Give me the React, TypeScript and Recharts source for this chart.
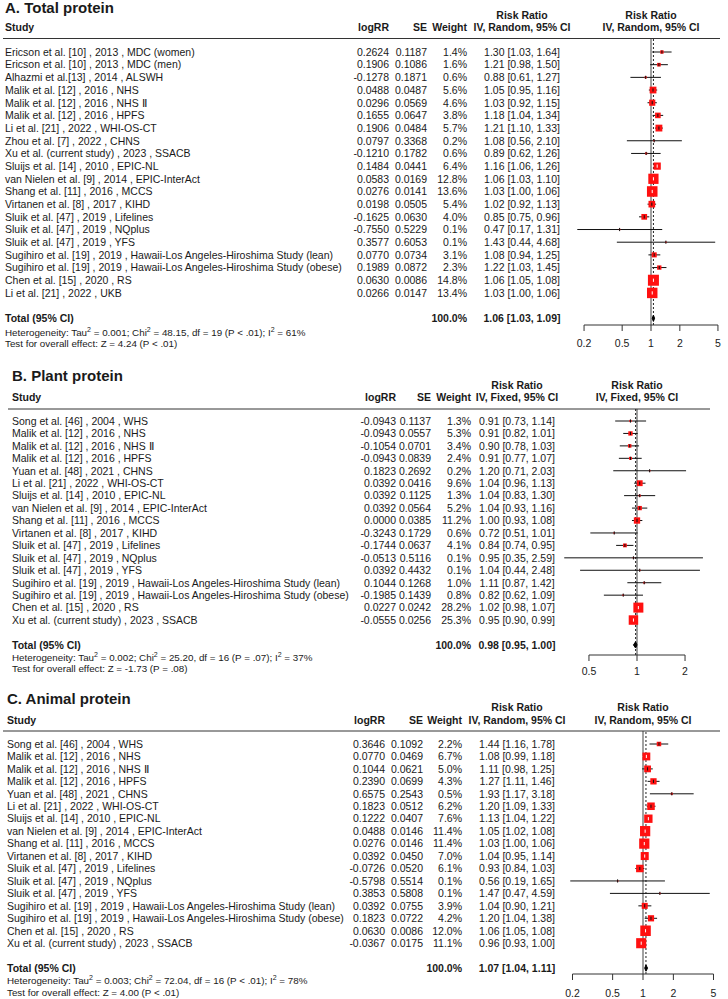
import React from 'react';
import { ScatterChart, Scatter, XAxis, YAxis, ErrorBar, ReferenceLine } from 'recharts';

const FONT = "'Liberation Sans', Arial, Helvetica, sans-serif";
const INK = '#1a1a1a';

// ---------- A. Total protein ----------
const totalStudies = [
  'Ericson et al. [10] , 2013 , MDC (women)',
  'Ericson et al. [10] , 2013 , MDC (men)',
  'Alhazmi et al.[13] , 2014 , ALSWH',
  'Malik et al. [12] , 2016 , NHS',
  'Malik et al. [12] , 2016 , NHS Ⅱ',
  'Malik et al. [12] , 2016 , HPFS',
  'Li et al. [21] , 2022 , WHI-OS-CT',
  'Zhou et al. [7] , 2022 , CHNS',
  'Xu et al. (current study) , 2023 , SSACB',
  'Sluijs et al. [14] , 2010 , EPIC-NL',
  'van Nielen et al. [9] , 2014 , EPIC-InterAct',
  'Shang et al. [11] , 2016 , MCCS',
  'Virtanen et al. [8] , 2017 , KIHD',
  'Sluik et al. [47] , 2019 , Lifelines',
  'Sluik et al. [47] , 2019 , NQplus',
  'Sluik et al. [47] , 2019 , YFS',
  'Sugihiro et al. [19] , 2019 , Hawaii-Los Angeles-Hiroshima Study (lean)',
  'Sugihiro et al. [19] , 2019 , Hawaii-Los Angeles-Hiroshima Study (obese)',
  'Chen et al. [15] , 2020 , RS',
  'Li et al. [21] , 2022 , UKB',
];
const totalLogRR = [0.2624, 0.1906, -0.1278, 0.0488, 0.0296, 0.1655, 0.1906, 0.0797, -0.121, 0.1484, 0.0583, 0.0276, 0.0198, -0.1625, -0.755, 0.3577, 0.077, 0.1989, 0.063, 0.0266];
const totalSE = [0.1187, 0.1086, 0.1871, 0.0487, 0.0569, 0.0647, 0.0484, 0.3368, 0.1782, 0.0441, 0.0169, 0.0141, 0.0505, 0.063, 0.5229, 0.6053, 0.0734, 0.0872, 0.0086, 0.0147];
const totalWeight = [1.4, 1.6, 0.6, 5.6, 4.6, 3.8, 5.7, 0.2, 0.6, 6.4, 12.8, 13.6, 5.4, 4.0, 0.1, 0.1, 3.1, 2.3, 14.8, 13.4];
const totalRR = [1.3, 1.21, 0.88, 1.05, 1.03, 1.18, 1.21, 1.08, 0.89, 1.16, 1.06, 1.03, 1.02, 0.85, 0.47, 1.43, 1.08, 1.22, 1.06, 1.03];
const totalLow = [1.03, 0.98, 0.61, 0.95, 0.92, 1.04, 1.1, 0.56, 0.62, 1.06, 1.03, 1.0, 0.92, 0.75, 0.17, 0.44, 0.94, 1.03, 1.05, 1.0];
const totalHigh = [1.64, 1.5, 1.27, 1.16, 1.15, 1.34, 1.33, 2.1, 1.26, 1.26, 1.1, 1.06, 1.13, 0.96, 1.31, 4.68, 1.25, 1.45, 1.08, 1.06];
const totalPooled = [1.06, 1.03, 1.09];
const totalHet = ['0.001', '48.15', '19', 'P < .01', '61%'];
const totalTest = 'Z = 4.24 (P < .01)';

// ---------- B. Plant protein ----------
const cohortStudies = [
  'Song et al. [46] , 2004 , WHS',
  'Malik et al. [12] , 2016 , NHS',
  'Malik et al. [12] , 2016 , NHS Ⅱ',
  'Malik et al. [12] , 2016 , HPFS',
  'Yuan et al. [48] , 2021 , CHNS',
  'Li et al. [21] , 2022 , WHI-OS-CT',
  'Sluijs et al. [14] , 2010 , EPIC-NL',
  'van Nielen et al. [9] , 2014 , EPIC-InterAct',
  'Shang et al. [11] , 2016 , MCCS',
  'Virtanen et al. [8] , 2017 , KIHD',
  'Sluik et al. [47] , 2019 , Lifelines',
  'Sluik et al. [47] , 2019 , NQplus',
  'Sluik et al. [47] , 2019 , YFS',
  'Sugihiro et al. [19] , 2019 , Hawaii-Los Angeles-Hiroshima Study (lean)',
  'Sugihiro et al. [19] , 2019 , Hawaii-Los Angeles-Hiroshima Study (obese)',
  'Chen et al. [15] , 2020 , RS',
  'Xu et al. (current study) , 2023 , SSACB',
];
const plantLogRR = [-0.0943, -0.0943, -0.1054, -0.0943, 0.1823, 0.0392, 0.0392, 0.0392, 0.0, -0.3243, -0.1744, -0.0513, 0.0392, 0.1044, -0.1985, 0.0227, -0.0555];
const plantSE = [0.1137, 0.0557, 0.0701, 0.0839, 0.2692, 0.0416, 0.1125, 0.0564, 0.0385, 0.1729, 0.0637, 0.5116, 0.4432, 0.1268, 0.1439, 0.0242, 0.0256];
const plantWeight = [1.3, 5.3, 3.4, 2.4, 0.2, 9.6, 1.3, 5.2, 11.2, 0.6, 4.1, 0.1, 0.1, 1.0, 0.8, 28.2, 25.3];
const plantRR = [0.91, 0.91, 0.9, 0.91, 1.2, 1.04, 1.04, 1.04, 1.0, 0.72, 0.84, 0.95, 1.04, 1.11, 0.82, 1.02, 0.95];
const plantLow = [0.73, 0.82, 0.78, 0.77, 0.71, 0.96, 0.83, 0.93, 0.93, 0.51, 0.74, 0.35, 0.44, 0.87, 0.62, 0.98, 0.9];
const plantHigh = [1.14, 1.01, 1.03, 1.07, 2.03, 1.13, 1.3, 1.16, 1.08, 1.01, 0.95, 2.59, 2.48, 1.42, 1.09, 1.07, 0.99];
const plantPooled = [0.98, 0.95, 1.0];
const plantHet = ['0.002', '25.20', '16', 'P = .07', '37%'];
const plantTest = 'Z = -1.73 (P = .08)';

// ---------- C. Animal protein ----------
const animalLogRR = [0.3646, 0.077, 0.1044, 0.239, 0.6575, 0.1823, 0.1222, 0.0488, 0.0276, 0.0392, -0.0726, -0.5798, 0.3853, 0.0392, 0.1823, 0.063, -0.0367];
const animalSE = [0.1092, 0.0469, 0.0621, 0.0699, 0.2543, 0.0512, 0.0407, 0.0146, 0.0146, 0.045, 0.052, 0.5514, 0.5808, 0.0755, 0.0722, 0.0086, 0.0175];
const animalWeight = [2.2, 6.7, 5.0, 4.3, 0.5, 6.2, 7.6, 11.4, 11.4, 7.0, 6.1, 0.1, 0.1, 3.9, 4.2, 12.0, 11.1];
const animalRR = [1.44, 1.08, 1.11, 1.27, 1.93, 1.2, 1.13, 1.05, 1.03, 1.04, 0.93, 0.56, 1.47, 1.04, 1.2, 1.06, 0.96];
const animalLow = [1.16, 0.99, 0.98, 1.11, 1.17, 1.09, 1.04, 1.02, 1.0, 0.95, 0.84, 0.19, 0.47, 0.9, 1.04, 1.05, 0.93];
const animalHigh = [1.78, 1.18, 1.25, 1.46, 3.18, 1.33, 1.22, 1.08, 1.06, 1.14, 1.03, 1.65, 4.59, 1.21, 1.38, 1.08, 1.0];
const animalPooled = [1.07, 1.04, 1.11];
const animalHet = ['0.003', '72.04', '16', 'P < .01', '78%'];
const animalTest = 'Z = 4.00 (P < .01)';

const ticksWide = [0.2, 0.5, 1, 2, 5];
const ticksNarrow = [0.5, 1, 2];

const panels = [
  {
    title: 'A. Total protein', method: 'Random',
    studies: totalStudies, logRR: totalLogRR, se: totalSE, weight: totalWeight,
    rr: totalRR, low: totalLow, high: totalHigh, pooled: totalPooled, het: totalHet, test: totalTest,
    L: { ruleY: 38.5, firstY: 52, rowH: 12.68, axisY: 325, oneX: 651, pxPerLn: 41.6, domain: [0.15, 6], ticks: ticksWide,
      tickMargin: 8.3, maxSq: 11, studyX: 5, logX: 389, seX: 427, wX: 467, rrX: 522, rightX: 651, ruleX: [3, 720],
      titleY: 8, h1Y: 15, h2Y: 27, hetY: 332, testY: 343.5 },
  },
  {
    title: 'B. Plant protein', method: 'Fixed',
    studies: cohortStudies, logRR: plantLogRR, se: plantSE, weight: plantWeight,
    rr: plantRR, low: plantLow, high: plantHigh, pooled: plantPooled, het: plantHet, test: plantTest,
    L: { ruleY: 409, firstY: 421, rowH: 12.44, axisY: 655, oneX: 637, pxPerLn: 69.3, domain: [0.33, 2.9], ticks: ticksNarrow,
      tickMargin: 6.3, maxSq: 10, studyX: 12, logX: 396, seX: 431, wX: 471, rrX: 517, rightX: 637, ruleX: [8, 710],
      titleY: 376, h1Y: 385, h2Y: 397, hetY: 657, testY: 668.5 },
  },
  {
    title: 'C. Animal protein', method: 'Random',
    studies: cohortStudies, logRR: animalLogRR, se: animalSE, weight: animalWeight,
    rr: animalRR, low: animalLow, high: animalHigh, pooled: animalPooled, het: animalHet, test: animalTest,
    L: { ruleY: 731, firstY: 744, rowH: 12.45, axisY: 974, oneX: 643, pxPerLn: 43.8, domain: [0.15, 6], ticks: ticksWide,
      tickMargin: 9.3, maxSq: 10.5, studyX: 7, logX: 385, seX: 423, wX: 462, rrX: 517, rightX: 643, ruleX: [3, 720],
      titleY: 699, h1Y: 707, h2Y: 720, hetY: 980, testY: 992 },
  },
];

const fmtCI = (r: number, lo: number, hi: number) => `${r.toFixed(2)} [${lo.toFixed(2)}, ${hi.toFixed(2)}]`;

function Txt({ x, y, anchor = 'start', bold = false, size = 10.5, children }: any) {
  return (
    <text x={x} y={y} dy="0.36em" textAnchor={anchor} fontWeight={bold ? 'bold' : 'normal'}
      fontSize={size} fontFamily={FONT} fill={INK}>
      {children}
    </text>
  );
}

function Sup() {
  return <tspan dy={-3.5} fontSize={7}>2</tspan>;
}

function PanelText({ p }: any) {
  const L = p.L;
  const [tau, chi, df, pv, i2] = p.het;
  return (
    <g>
      <Txt x={L.studyX} y={L.titleY} bold size={15}>{p.title}</Txt>
      <Txt x={L.studyX} y={L.h2Y} bold>Study</Txt>
      <Txt x={L.logX} y={L.h2Y} bold anchor="end">logRR</Txt>
      <Txt x={L.seX} y={L.h2Y} bold anchor="end">SE</Txt>
      <Txt x={L.wX} y={L.h2Y} bold anchor="end">Weight</Txt>
      <Txt x={L.rrX} y={L.h1Y} bold anchor="middle">Risk Ratio</Txt>
      <Txt x={L.rrX} y={L.h2Y} bold anchor="middle">{`IV, ${p.method}, 95% CI`}</Txt>
      <Txt x={L.rightX} y={L.h1Y} bold anchor="middle">Risk Ratio</Txt>
      <Txt x={L.rightX} y={L.h2Y} bold anchor="middle">{`IV, ${p.method}, 95% CI`}</Txt>
      <line x1={L.ruleX[0]} x2={L.ruleX[1]} y1={L.ruleY} y2={L.ruleY} stroke="#333" strokeWidth={1} />
      <text x={L.studyX} y={L.hetY} dy="0.36em" fontSize={9.8} fontFamily={FONT} fill={INK}>
        Heterogeneity: Tau<Sup /><tspan dy={3.5}> = {tau}; Chi</tspan><Sup />
        <tspan dy={3.5}> = {chi}, df = {df} ({pv}); I</tspan><Sup /><tspan dy={3.5}> = {i2}</tspan>
      </text>
      <text x={L.studyX} y={L.testY} dy="0.36em" fontSize={9.8} fontFamily={FONT} fill={INK}>
        {`Test for overall effect: ${p.test}`}
      </text>
    </g>
  );
}

function ForestPanel({ p }: any) {
  const L = p.L;
  const n = p.studies.length;
  const totalIdx = n + 1;
  const maxW = Math.max(...p.weight);
  const sq = (w: number) => Math.max(1.5, L.maxSq * Math.sqrt(w / maxW));

  const rows = p.studies.map((s: string, i: number) => ({
    row: i,
    rr: p.rr[i],
    w: p.weight[i],
    err: [p.rr[i] - p.low[i], p.high[i] - p.rr[i]],
    inside: L.pxPerLn * Math.log(p.high[i] / p.low[i]) < sq(p.weight[i]),
  }));
  const inner = rows.filter((r: any) => r.inside);
  const outer = rows.filter((r: any) => !r.inside);

  const [pr, plo, phi] = p.pooled;
  const diamond = [
    { rr: plo, row: totalIdx },
    { rr: pr, row: totalIdx - 0.25 },
    { rr: phi, row: totalIdx },
    { rr: pr, row: totalIdx + 0.25 },
    { rr: plo, row: totalIdx },
  ];

  const yTop = (L.ruleY - L.firstY) / L.rowH;
  const yBot = (L.axisY - L.firstY) / L.rowH;
  const leftPx = L.oneX + L.pxPerLn * Math.log(L.domain[0]);
  const rightPx = L.oneX + L.pxPerLn * Math.log(L.domain[1]);
  const xAxisH = 30;
  const yTicks = [...rows.map((r: any) => r.row), totalIdx];

  const rowTick = (tp: any) => {
    const idx = tp.payload.value;
    const y = tp.y;
    if (idx === totalIdx) {
      return (
        <g>
          <Txt x={L.studyX} y={y} bold>Total (95% CI)</Txt>
          <Txt x={L.wX} y={y} bold anchor="end">100.0%</Txt>
          <Txt x={L.rrX} y={y} bold anchor="middle">{fmtCI(pr, plo, phi)}</Txt>
        </g>
      );
    }
    return (
      <g>
        <Txt x={L.studyX} y={y}>{p.studies[idx]}</Txt>
        <Txt x={L.logX} y={y} anchor="end">{p.logRR[idx].toFixed(4)}</Txt>
        <Txt x={L.seX} y={y} anchor="end">{p.se[idx].toFixed(4)}</Txt>
        <Txt x={L.wX} y={y} anchor="end">{`${p.weight[idx].toFixed(1)}%`}</Txt>
        <Txt x={L.rrX} y={y} anchor="middle">{fmtCI(p.rr[idx], p.low[idx], p.high[idx])}</Txt>
      </g>
    );
  };

  const square = (s: any) => {
    const size = sq(s.payload.w);
    return <rect x={s.cx - size / 2} y={s.cy - size / 2} width={size} height={size} fill="#ff1010" />;
  };
  const tick = (color: string) => (s: any) => (
    <line x1={s.cx} x2={s.cx} y1={s.cy - 1.6} y2={s.cy + 1.6} stroke={color} strokeWidth={1} />
  );

  return (
    <div style={{ position: 'absolute', left: 0, top: 0 }}>
      <ScatterChart width={728} height={999}
        margin={{ top: L.ruleY, right: 728 - rightPx, bottom: 999 - L.axisY - xAxisH, left: 0 }}>
        <XAxis type="number" dataKey="rr" scale="log" domain={L.domain} allowDataOverflow ticks={L.ticks} interval={0}
          axisLine={false} tickLine={{ stroke: '#333' }} tickSize={6} tickMargin={L.tickMargin} height={xAxisH}
          tick={{ fontSize: 10.5, fill: INK, fontFamily: FONT }} tickFormatter={(v: number) => String(v)} />
        <YAxis type="number" dataKey="row" domain={[yTop, yBot]} allowDataOverflow reversed ticks={yTicks} interval={0}
          width={leftPx} axisLine={false} tickLine={false} tick={rowTick} />
        <ReferenceLine x={1} stroke="#8a8a8a" strokeWidth={1.6} />
        <ReferenceLine x={pr} stroke="#222" strokeWidth={1} strokeDasharray="2 2" />
        <ReferenceLine segment={[{ x: L.ticks[0], y: yBot }, { x: L.ticks[L.ticks.length - 1], y: yBot }]}
          stroke="#333" strokeWidth={1} ifOverflow="visible" />
        <Scatter data={rows} shape={square} isAnimationActive={false} />
        <Scatter data={outer} shape={tick('#111')} isAnimationActive={false}>
          <ErrorBar dataKey="err" direction="x" width={0} stroke="#111" strokeWidth={1} isAnimationActive={false} />
        </Scatter>
        <Scatter data={inner} shape={tick('#fff')} isAnimationActive={false}>
          <ErrorBar dataKey="err" direction="x" width={0} stroke="#fff" strokeWidth={1} isAnimationActive={false} />
        </Scatter>
        <Scatter data={diamond} line={{ stroke: '#000', fill: '#000', strokeWidth: 1 }} lineType="joint"
          shape={() => <g />} isAnimationActive={false} />
      </ScatterChart>
    </div>
  );
}

export default function App() {
  return (
    <div style={{ position: 'absolute', left: 0, top: 0, width: 728, height: 999, background: '#fff' }}>
      {panels.map((p) => (
        <ForestPanel key={p.title} p={p} />
      ))}
      <svg width={728} height={999} style={{ position: 'absolute', left: 0, top: 0, pointerEvents: 'none' }}>
        {panels.map((p) => (
          <PanelText key={p.title} p={p} />
        ))}
      </svg>
    </div>
  );
}
